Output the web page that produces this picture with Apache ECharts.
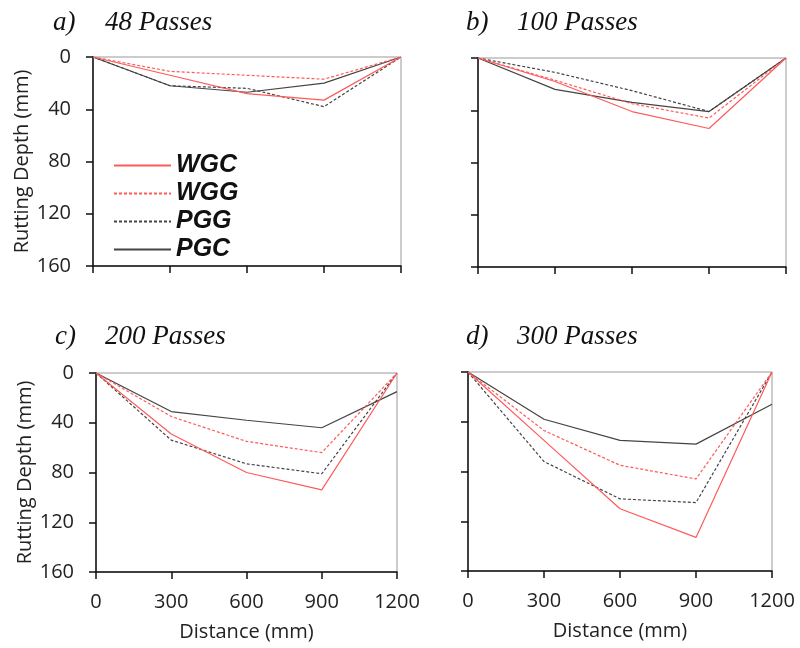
<!DOCTYPE html>
<html>
<head>
<meta charset="utf-8">
<script src="https://cdn.jsdelivr.net/npm/echarts@6/dist/echarts.min.js"></script>
<style>
  html, body { margin: 0; padding: 0; background: #fff; }
  #main { width: 800px; height: 648px; }
</style>
</head>
<body>
<div id="main"></div>
<script>
// distance along the transverse profile (mm)
var distance = [0, 300, 600, 900, 1200];
var yTicks = [0, 40, 80, 120, 160];
var seriesNames = ['WGC', 'WGG', 'PGG', 'PGC'];

// rutting depth (mm) for each pass count
var wgc48 = [0, 14, 28, 33, 0];
var wgg48 = [0, 11, 14, 17, 0];
var pgg48 = [0, 22, 24, 38, 0];
var pgc48 = [0, 22, 27, 20, 0];

var wgc100 = [0, 18, 41, 54, 0];
var wgg100 = [0, 17, 35, 46, 0];
var pgg100 = [0, 11, 25, 41, 0];
var pgc100 = [0, 24, 34, 41, 0];

var wgc200 = [0, 49, 80, 94, 0];
var wgg200 = [0, 35, 55, 64, 0];
var pgg200 = [0, 54, 73, 81, 0];
var pgc200 = [0, 31, 38, 44, 15];

var wgc300 = [0, 55, 110, 133, 0];
var wgg300 = [0, 47, 75, 86, 0];
var pgg300 = [0, 72, 102, 105, 0];
var pgc300 = [0, 38, 55, 58, 26];

var panels = [
  {tag: 'a)', title: '48 Passes', data: [wgc48, wgg48, pgg48, pgc48]},
  {tag: 'b)', title: '100 Passes', data: [wgc100, wgg100, pgg100, pgc100]},
  {tag: 'c)', title: '200 Passes', data: [wgc200, wgg200, pgg200, pgc200]},
  {tag: 'd)', title: '300 Passes', data: [wgc300, wgg300, pgg300, pgc300]}
];

var RED = '#ff5a5a';
var DARK = '#444444';
var lineStyles = [
  {color: RED, width: 1.2, type: 'solid'},
  {color: RED, width: 1.2, type: [3, 2]},
  {color: DARK, width: 1.2, type: [3, 2]},
  {color: DARK, width: 1.2, type: 'solid'}
];

// grid boxes: left, top, width, height
var boxes = [
  [93, 57, 308, 209],
  [478, 58, 308, 209],
  [96, 373, 301, 199],
  [468, 372, 304, 199]
];
var titlePos = [[48, 4, 100], [461, 4, 512], [50, 318, 100], [461, 318, 512]];

var labelFont = {fontFamily: 'Open Sans', fontSize: 20, color: '#222'};
var titleFont = {fontFamily: 'Liberation Serif', fontStyle: 'italic', fontWeight: 'normal', fontSize: 27, color: '#111'};

var chart = echarts.init(document.getElementById('main'));

var grids = [], xAxes = [], yAxes = [], series = [], titles = [];
panels.forEach(function (p, i) {
  var b = boxes[i];
  var isLeft = (i % 2 === 0), isBottom = (i >= 2);
  grids.push({left: b[0], top: b[1], width: b[2], height: b[3],
    show: true, borderColor: '#999', borderWidth: 1});
  xAxes.push({
    gridIndex: i, type: 'value', min: 0, max: 1200, interval: 300,
    name: isBottom ? 'Distance (mm)' : '', nameLocation: 'middle', nameGap: 50,
    nameTextStyle: labelFont,
    axisLine: {onZero: false, lineStyle: {color: '#111', width: 1.5}},
    axisTick: {show: true, length: 7, lineStyle: {color: '#111', width: 1.5}},
    axisLabel: {show: isBottom, margin: 20, fontFamily: 'Open Sans', fontSize: 20, color: '#222',
      formatter: function (v) { return String(v); }},
    splitLine: {show: false}
  });
  yAxes.push({
    gridIndex: i, type: 'value', inverse: true, min: 0, max: 160, interval: 40,
    name: isLeft ? 'Rutting Depth (mm)' : '', nameLocation: 'middle', nameGap: 60,
    nameTextStyle: labelFont,
    axisLine: {show: true, lineStyle: {color: '#111', width: 1.5}},
    axisTick: {show: true, length: 7, lineStyle: {color: '#111', width: 1.5}},
    axisLabel: {show: isLeft, margin: 22, fontFamily: 'Open Sans', fontSize: 20, color: '#222'},
    splitLine: {show: false}
  });
  p.data.forEach(function (vals, k) {
    series.push({
      name: seriesNames[k], type: 'line', xAxisIndex: i, yAxisIndex: i,
      symbol: 'none', lineStyle: lineStyles[k], itemStyle: {color: lineStyles[k].color},
      data: distance.map(function (d, j) { return [d, vals[j]]; }),
      z: 4 - k
    });
  });
  var t = titlePos[i];
  titles.push({text: p.tag, left: t[0], top: t[1], textStyle: titleFont});
  titles.push({text: p.title, left: t[2], top: t[1], textStyle: titleFont});
});

chart.setOption({
  animation: false,
  title: titles,
  grid: grids,
  xAxis: xAxes,
  yAxis: yAxes,
  legend: {
    data: seriesNames, orient: 'vertical', left: 108, top: 148,
    itemWidth: 57, itemHeight: 12, itemGap: 3,
    itemStyle: {opacity: 0},
    textStyle: {fontFamily: 'Liberation Sans', fontStyle: 'italic', fontWeight: 'bold', fontSize: 25, color: '#111'}
  },
  series: series
});
</script>
</body>
</html>
